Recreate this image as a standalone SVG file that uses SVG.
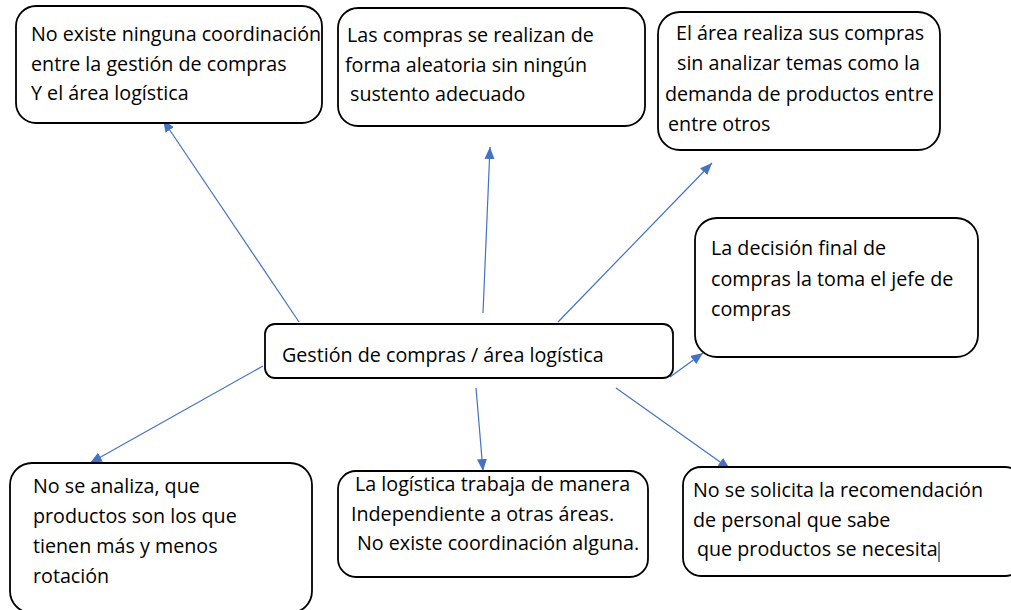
<svg xmlns="http://www.w3.org/2000/svg" width="1011" height="610" viewBox="0 0 1011 610">
<defs>
<style>
.box{fill:#fff;stroke:#000;stroke-width:1.8}
.t{font-family:"Open Sans","Noto Sans",sans-serif;font-size:19.7px;fill:#000}
.c{stroke:#4472C4;stroke-width:1.2;fill:none;marker-end:url(#ah)}
</style>
<marker id="ah" viewBox="0 0 12 10" refX="12" refY="5" markerWidth="12" markerHeight="10" markerUnits="userSpaceOnUse" orient="auto">
<path d="M0,0 L12,5 L0,10 Z" fill="#4472C4"/>
</marker>
</defs>
<rect width="1011" height="610" fill="#fff"/>
<g id="connectors">
<line class="c" x1="299" y1="322" x2="163" y2="120"/>
<line class="c" x1="483" y1="313" x2="490" y2="147"/>
<line class="c" x1="558" y1="322" x2="712" y2="163"/>
<line class="c" x1="670" y1="377" x2="703" y2="353"/>
<line class="c" x1="263" y1="366" x2="90" y2="463"/>
<line class="c" x1="476" y1="388" x2="483" y2="471"/>
<line class="c" x1="616" y1="388" x2="730" y2="469"/>
</g>
<g id="n1">
<rect class="box" x="16" y="6" width="306" height="117" rx="20"/>
<text class="t" x="31" y="41">No existe ninguna coordinación</text>
<text class="t" x="31" y="71">entre la gestión de compras</text>
<text class="t" x="31" y="100">Y el área logística</text>
</g>
<g id="n2">
<rect class="box" x="338" y="8" width="307" height="118" rx="20"/>
<text class="t" x="347" y="42">Las compras se realizan de</text>
<text class="t" x="345" y="72">forma aleatoria sin ningún</text>
<text class="t" x="350" y="101">sustento adecuado</text>
</g>
<g id="n3">
<rect class="box" x="658" y="12" width="282" height="138" rx="22"/>
<text class="t" x="676" y="40">El área realiza sus compras</text>
<text class="t" x="677" y="70">sin analizar temas como la</text>
<text class="t" x="665" y="101">demanda de productos entre</text>
<text class="t" x="668" y="131">entre otros</text>
</g>
<g id="n4">
<rect class="box" x="695" y="218" width="283" height="139" rx="22"/>
<text class="t" x="711" y="255">La decisión final de</text>
<text class="t" x="711" y="286">compras la toma el jefe de</text>
<text class="t" x="711" y="316">compras</text>
</g>
<g id="center">
<rect class="box" x="265" y="324" width="408" height="54" rx="10"/>
<text class="t" x="282" y="362">Gestión de compras / área logística</text>
</g>
<g id="n5">
<rect class="box" x="10" y="463" width="302" height="150" rx="22"/>
<text class="t" x="33" y="493">No se analiza, que</text>
<text class="t" x="33" y="523">productos son los que</text>
<text class="t" x="33" y="553">tienen más y menos</text>
<text class="t" x="33" y="583">rotación</text>
</g>
<g id="n6">
<rect class="box" x="338" y="471" width="310" height="106" rx="18"/>
<text class="t" x="355" y="491">La logística trabaja de manera</text>
<text class="t" x="351" y="521">Independiente a otras áreas.</text>
<text class="t" x="357" y="550">No existe coordinación alguna.</text>
</g>
<g id="n7">
<rect class="box" x="683" y="467" width="340" height="109" rx="18"/>
<text class="t" x="693" y="497">No se solicita la recomendación</text>
<text class="t" x="693" y="527">de personal que sabe</text>
<text class="t" x="697" y="556">que productos se necesita</text>
<line x1="939" y1="542" x2="939" y2="562" stroke="#000" stroke-width="1"/>
</g>
</svg>
